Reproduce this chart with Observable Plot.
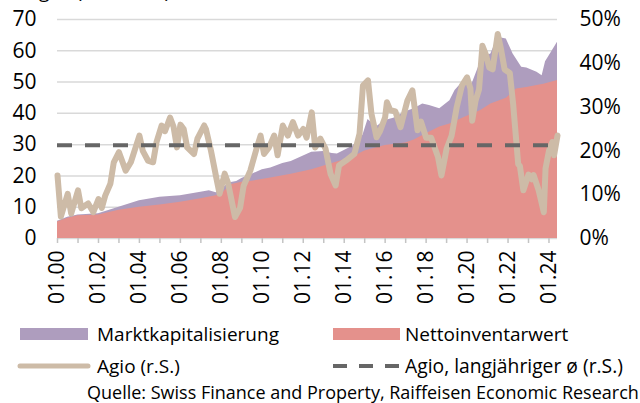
<!DOCTYPE html>
<html><head><meta charset="utf-8">
<script src="https://cdn.jsdelivr.net/npm/d3@7"></script>
<script src="https://cdn.jsdelivr.net/npm/@observablehq/plot@0.6"></script>
<style>
body{margin:0;background:#fff;font-family:"Open Sans",sans-serif;color:#000;}
#wrap{position:relative;width:640px;height:403px;overflow:hidden;}
#legend{position:absolute;left:0;top:0;pointer-events:none;}
</style></head><body><div id="wrap"></div>
<script>
// Agio (% , right scale)
const agioDates=["2000-01","2000-03","2000-07","2000-09","2001-01","2001-03","2001-07","2001-10","2002-01","2002-03","2002-05","2002-08","2002-10","2003-01","2003-02","2003-05","2003-08","2004-01","2004-03","2004-06","2004-09","2004-11","2005-02","2005-04","2005-07","2005-09","2005-11","2006-01","2006-03","2006-05","2006-09","2006-11","2007-03","2007-04","2007-07","2007-10","2007-12","2008-03","2008-05","2008-09","2008-12","2009-02","2009-06","2009-10","2009-12","2010-02","2010-05","2010-08","2010-10","2011-01","2011-04","2011-07","2011-10","2012-01","2012-03","2012-06","2012-08","2012-11","2013-02","2013-05","2013-08","2013-10","2014-02","2014-07","2014-10","2014-12","2015-03","2015-05","2015-08","2015-10","2016-01","2016-02","2016-04","2016-07","2016-10","2017-02","2017-05","2017-08","2017-10","2018-01","2018-04","2018-08","2018-10","2019-01","2019-04","2019-07","2019-10","2020-01","2020-03","2020-04","2020-06","2020-08","2020-10","2020-12","2021-02","2021-04","2021-07","2021-09","2021-11","2022-02","2022-04","2022-07","2022-08","2022-10","2023-01","2023-03","2023-04","2023-07","2023-10","2023-11","2024-01","2024-03","2024-04","2024-06"];
const agioValues=[14.4,5.0,10.2,5.7,11.0,6.9,8.0,6.0,9.0,7.0,9.8,12.5,17.4,19.7,18.6,15.5,17.4,23.5,20.0,17.8,17.4,22.0,25.8,24.5,27.6,25.5,20.8,26.0,25.0,20.8,19.3,22.8,25.8,25.0,20.0,14.0,10.2,14.8,12.6,4.9,7.0,12.0,15.5,21.0,23.5,19.3,20.8,23.5,19.0,25.8,23.5,26.6,23.5,25.0,23.0,28.8,20.8,22.8,20.5,14.8,12.1,16.7,17.8,19.3,23.9,34.9,36.1,28.5,23.1,24.5,27.7,31.1,29.3,29.0,25.4,31.5,33.8,24.7,26.7,23.0,23.0,18.6,14.4,20.5,23.5,30.0,34.9,36.8,34.2,26.9,31.5,34.0,44.0,42.0,39.0,38.6,46.7,43.0,38.6,37.8,30.8,17.0,16.5,11.0,14.6,13.5,14.5,11.0,6.0,16.0,20.0,22.0,19.0,23.5];
const agioAverage=21.3;

// Nettoinventarwert (Mrd. CHF, left scale)
const navDates=["2000-01","2000-07","2001-01","2002-01","2003-01","2004-01","2005-01","2006-01","2007-01","2007-10","2008-01","2008-07","2009-01","2009-07","2010-06","2011-06","2012-06","2013-06","2014-06","2015-01","2016-01","2017-01","2017-06","2018-01","2018-09","2019-03","2019-12","2020-09","2021-03","2021-12","2022-06","2022-12","2023-06","2023-10","2024-06"];
const navValues=[5.3,6.5,7.3,7.5,9.0,10.0,10.7,11.6,12.7,13.7,14.2,17.3,18.0,18.3,19.3,20.5,22.0,24.0,26.0,28.0,29.7,30.5,31.5,33.5,35.6,36.6,38.8,40.9,43.0,44.8,47.8,48.3,48.9,49.3,50.5];

// Marktkapitalisierung (Mrd. CHF, left scale)
const capDates=["2000-01","2000-07","2001-01","2002-01","2003-01","2004-01","2005-01","2006-01","2007-01","2007-06","2007-10","2008-06","2008-10","2009-01","2009-07","2010-01","2010-06","2011-01","2011-06","2012-06","2013-01","2013-06","2013-09","2014-06","2014-12","2015-03","2015-08","2016-01","2016-06","2017-01","2017-06","2017-11","2018-03","2018-09","2019-03","2019-06","2019-12","2020-03","2020-04","2020-10","2021-03","2021-07","2021-12","2022-04","2022-09","2022-12","2023-06","2023-09","2023-11","2024-03","2024-06"];
const capValues=[5.5,6.8,7.5,7.9,10.0,12.1,13.2,13.7,14.8,15.3,14.6,17.8,18.2,19.2,20.5,22.0,22.5,24.0,24.6,27.6,27.8,27.2,27.0,29.5,33.0,38.0,35.7,37.7,38.4,40.5,41.5,43.0,42.5,41.5,44.0,47.3,51.0,50.0,49.5,58.0,59.0,64.3,63.8,59.0,54.7,54.5,53.1,52.0,56.5,60.0,62.7];

const leftTicks=[0,10,20,30,40,50,60,70];
const rightTicks=[0,10,20,30,40,50];
const yearTicks=d3.range(2000,2025);
const labelYears=d3.range(2000,2025,2);

const parse=d3.utcParse("%Y-%m");
const ratio=70/50;
const agio=agioDates.map((d,i)=>({date:parse(d),v:agioValues[i]}));
const nav=navDates.map((d,i)=>({date:parse(d),v:navValues[i]}));
const cap=capDates.map((d,i)=>({date:parse(d),v:capValues[i]}));
const yr=y=>new Date(Date.UTC(y,0,1));

const chart=Plot.plot({
  width:640,height:312,marginLeft:57,marginRight:83,marginTop:19,marginBottom:74,
  style:{fontFamily:"'Open Sans', sans-serif",fontSize:"21px",color:"#000",background:"transparent"},
  x:{type:"utc",domain:[yr(2000),new Date(Date.UTC(2024,5,1))],label:null},
  y:{domain:[0,70],label:null},
  marks:[
    Plot.gridY(leftTicks,{stroke:"#d9d9d9",strokeOpacity:1,strokeWidth:1.5}),
    Plot.areaY(cap,{x:"date",y:"v",fill:"#ae9dbe"}),
    Plot.areaY(nav,{x:"date",y:"v",fill:"#e4918c"}),
    Plot.axisY(leftTicks,{anchor:"left",tickSize:0,tickPadding:21,fontSize:21,label:null}),
    Plot.axisY(rightTicks.map(p=>p*ratio),{anchor:"right",tickSize:0,tickPadding:22,fontSize:21,label:null,tickFormat:d=>Math.round(d/ratio)+"%"}),
    Plot.axisX(yearTicks.map(yr),{anchor:"bottom",tickSize:5,stroke:"#c4c4c4",strokeWidth:1.5,strokeOpacity:1,tickFormat:()=>"",label:null}),
    Plot.axisX(labelYears.map(yr),{anchor:"bottom",tickSize:0,tickPadding:12,tickRotate:-90,fontSize:21,label:null,tickFormat:d3.utcFormat("%m.%y")}),
    Plot.line(agio,{x:"date",y:d=>d.v*ratio,stroke:"#cdbba7",strokeWidth:6,strokeLinejoin:"round",strokeLinecap:"round"}),
    Plot.ruleY([agioAverage*ratio],{stroke:"#666666",strokeWidth:4,strokeDasharray:"15 13"})
  ]
});
const wrap=document.getElementById("wrap");
wrap.appendChild(chart);

const ns="http://www.w3.org/2000/svg";
const lg=document.createElementNS(ns,"svg");
lg.setAttribute("id","legend");lg.setAttribute("width",640);lg.setAttribute("height",403);
lg.innerHTML=`
<g font-family="'Open Sans', sans-serif" font-size="19" fill="#000">
<text x="0" y="-2">Anlagen (Mrd. CHF)</text>
<rect x="20" y="328" width="68" height="12" fill="#ae9dbe"/>
<text x="97" y="341">Marktkapitalisierung</text>
<rect x="333" y="328" width="67" height="12" fill="#e4918c"/>
<text x="405" y="341">Nettoinventarwert</text>
<line x1="20" x2="88" y1="366" y2="366" stroke="#cdbba7" stroke-width="5" stroke-linecap="round"/>
<text x="97" y="373">Agio (r.S.)</text>
<line x1="333" x2="400" y1="366" y2="366" stroke="#666" stroke-width="4" stroke-dasharray="14 12"/>
<text x="405" y="373" font-size="19.3">Agio, langjähriger ø (r.S.)</text>
<text x="87" y="399" font-size="18">Quelle: Swiss Finance and Property, Raiffeisen Economic Research</text>
</g>`;
wrap.appendChild(lg);
</script></body></html>
